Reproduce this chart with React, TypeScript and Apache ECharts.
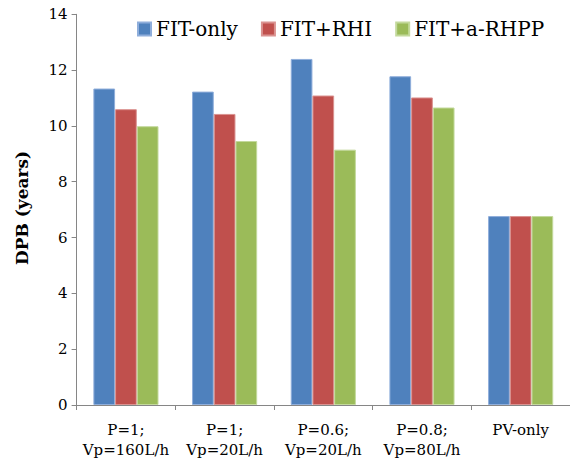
import React, { useEffect, useRef } from "react";
import * as echarts from "echarts";

const categories = ["P=1;\nVp=160L/h", "P=1;\nVp=20L/h", "P=0.6;\nVp=20L/h", "P=0.8;\nVp=80L/h", "PV-only"];
const seriesNames = ["FIT-only", "FIT+RHI", "FIT+a-RHPP"];
const fitOnly = [11.34, 11.23, 12.4, 11.78, 6.77];
const fitRhi = [10.6, 10.43, 11.09, 11.02, 6.77];
const fitARhpp = [9.99, 9.46, 9.15, 10.66, 6.77];
const colors = ["#4F81BD", "#C0504D", "#9BBB59"];
const borderColors = ["#8FAEDB", "#DA9290", "#C3D99C"];
const yTicks = { min: 0, max: 14, interval: 2 };
const yName = "DPB (years)";

const FONT = "DejaVu Serif";

export default function App() {
  const ref = useRef<HTMLDivElement>(null);
  useEffect(() => {
    document.body.style.margin = "0";
    if (!ref.current) return;
    const chart = echarts.init(ref.current, null, { renderer: "svg" });
    const values = [fitOnly, fitRhi, fitARhpp];
    chart.setOption({
      animation: false,
      backgroundColor: "#ffffff",
      grid: { left: 76.6, right: -6, top: 14.3, bottom: 50.3, containLabel: false },
      legend: {
        left: 137,
        top: 19,
        padding: 0,
        itemWidth: 13,
        itemHeight: 13,
        itemGap: 23,
        icon: "rect",
        textStyle: { fontFamily: FONT, fontSize: 20, color: "#000" },
        data: seriesNames,
      },
      xAxis: {
        type: "category",
        data: categories,
        axisLine: { lineStyle: { color: "#868686", width: 1 } },
        axisTick: { show: true, length: 5, inside: false, alignWithLabel: false, lineStyle: { color: "#868686" } },
        axisLabel: { fontFamily: FONT, fontSize: 15, color: "#000", lineHeight: 20, margin: 15, interval: 0 },
        splitLine: { show: false },
      },
      yAxis: {
        type: "value",
        min: yTicks.min,
        max: yTicks.max,
        interval: yTicks.interval,
        axisLine: { show: true, lineStyle: { color: "#868686", width: 1 } },
        axisTick: { show: true, length: 5, lineStyle: { color: "#868686" } },
        axisLabel: { fontFamily: FONT, fontSize: 15, color: "#000", margin: 9 },
        splitLine: { show: false },
      },
      graphic: [
        {
          type: "text",
          x: 22,
          y: 208,
          rotation: Math.PI / 2,
          style: {
            text: yName,
            font: `bold 17px "${FONT}"`,
            fill: "#000",
            align: "center",
            verticalAlign: "middle",
          },
        },
      ],
      series: seriesNames.map((name, i) => ({
        name,
        type: "bar",
        data: values[i],
        barGap: "0%",
        barCategoryGap: "34%",
        itemStyle: { color: colors[i], borderColor: borderColors[i], borderWidth: 1 },
      })),
    });
    return () => chart.dispose();
  }, []);
  return <div ref={ref} style={{ width: 570, height: 460 }} />;
}
